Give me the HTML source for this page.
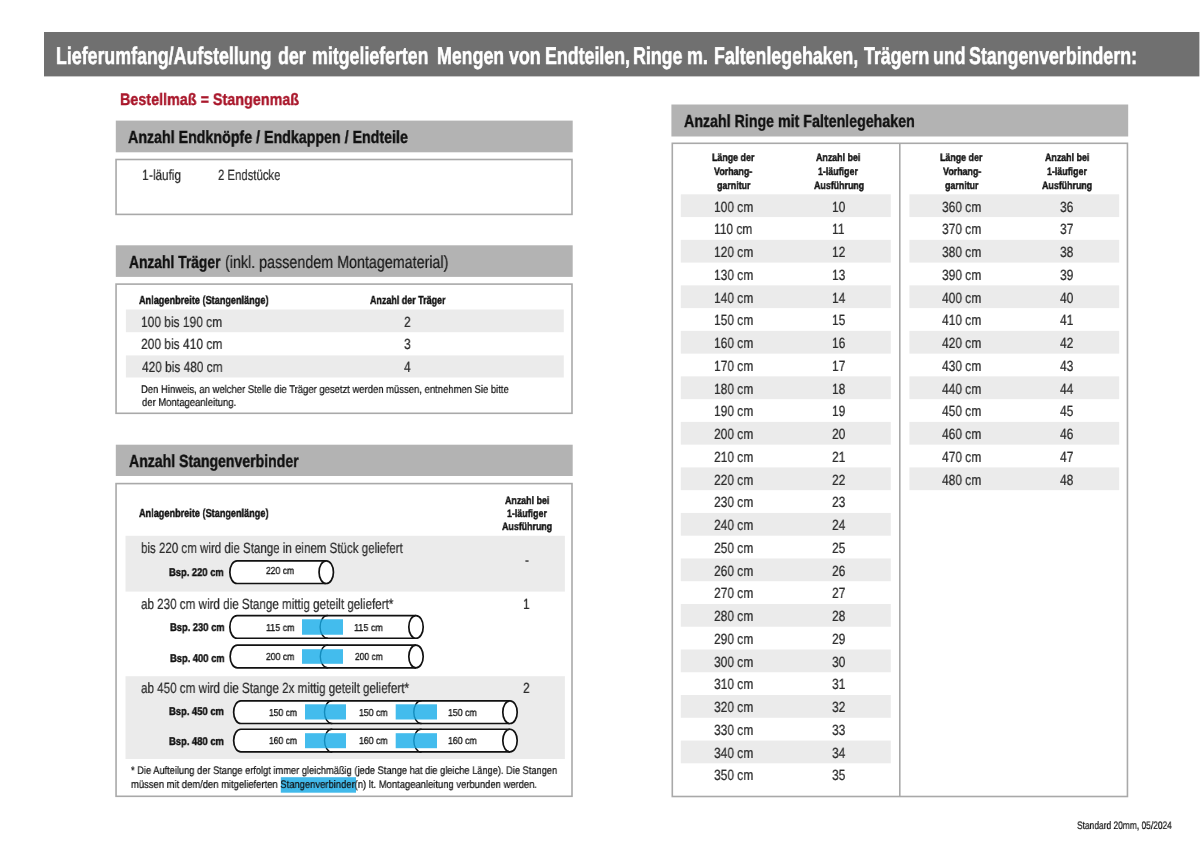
<!DOCTYPE html>
<html><head><meta charset="utf-8"><style>
html,body{margin:0;padding:0;background:#fff}
#pg{position:relative;width:1200px;height:849px;overflow:hidden;background:#fff;font-family:"Liberation Sans",sans-serif}
.t{position:absolute;white-space:pre;transform-origin:0 0;text-rendering:geometricPrecision;will-change:transform}
.b{font-weight:700}.n{font-weight:400}
svg{position:absolute;left:0;top:0}
</style></head><body><div id="pg">
<svg width="1200" height="849" viewBox="0 0 1200 849"><rect x="44" y="32" width="1155.40" height="44.40" fill="#707070"/><rect x="115.8" y="120.6" width="456.90" height="31.70" fill="#b3b3b3"/><rect x="116.05" y="159.5" width="455.95" height="54.90" fill="none" stroke="#a9a9a9" stroke-width="1.6"/><rect x="115.8" y="245.3" width="456.90" height="31.60" fill="#b3b3b3"/><rect x="125.9" y="309.5" width="437.90" height="22.70" fill="#ebebeb"/><rect x="125.9" y="355.4" width="437.90" height="22.10" fill="#ebebeb"/><rect x="116.05" y="284.1" width="455.95" height="129.20" fill="none" stroke="#a9a9a9" stroke-width="1.6"/><rect x="115.8" y="444.7" width="456.90" height="31.30" fill="#b3b3b3"/><rect x="125.5" y="535.8" width="439.40" height="55.80" fill="#ebebeb"/><rect x="125.5" y="676.2" width="439.40" height="82.80" fill="#ebebeb"/><rect x="116.05" y="483.6" width="455.95" height="312.70" fill="none" stroke="#a9a9a9" stroke-width="1.6"/><rect x="280.8" y="777.2" width="75.20" height="15.50" fill="#41b9ea"/><rect x="671.4" y="104.5" width="456.80" height="32.00" fill="#b3b3b3"/><rect x="680.8" y="194.3" width="210.00" height="22.76" fill="#ebebeb"/><rect x="680.8" y="239.82000000000002" width="210.00" height="22.76" fill="#ebebeb"/><rect x="680.8" y="285.34000000000003" width="210.00" height="22.76" fill="#ebebeb"/><rect x="680.8" y="330.86" width="210.00" height="22.76" fill="#ebebeb"/><rect x="680.8" y="376.38" width="210.00" height="22.76" fill="#ebebeb"/><rect x="680.8" y="421.90000000000003" width="210.00" height="22.76" fill="#ebebeb"/><rect x="680.8" y="467.42" width="210.00" height="22.76" fill="#ebebeb"/><rect x="680.8" y="512.94" width="210.00" height="22.76" fill="#ebebeb"/><rect x="680.8" y="558.46" width="210.00" height="22.76" fill="#ebebeb"/><rect x="680.8" y="603.98" width="210.00" height="22.76" fill="#ebebeb"/><rect x="680.8" y="649.5" width="210.00" height="22.76" fill="#ebebeb"/><rect x="680.8" y="695.02" width="210.00" height="22.76" fill="#ebebeb"/><rect x="680.8" y="740.54" width="210.00" height="22.76" fill="#ebebeb"/><rect x="909.4" y="194.3" width="209.80" height="22.76" fill="#ebebeb"/><rect x="909.4" y="239.82000000000002" width="209.80" height="22.76" fill="#ebebeb"/><rect x="909.4" y="285.34000000000003" width="209.80" height="22.76" fill="#ebebeb"/><rect x="909.4" y="330.86" width="209.80" height="22.76" fill="#ebebeb"/><rect x="909.4" y="376.38" width="209.80" height="22.76" fill="#ebebeb"/><rect x="909.4" y="421.90000000000003" width="209.80" height="22.76" fill="#ebebeb"/><rect x="909.4" y="467.42" width="209.80" height="22.76" fill="#ebebeb"/><rect x="672.3" y="143.3" width="455.15" height="653.20" fill="none" stroke="#a9a9a9" stroke-width="1.6"/><line x1="899.8" y1="143.3" x2="899.8" y2="796.5" stroke="#a9a9a9" stroke-width="1.6"/><path d="M326.25,560.80 L237.05,560.80 A7.2,11.35 0 0 0 237.05,583.50 L326.25,583.50 Z" fill="#fff"/><path d="M326.25,560.80 L237.05,560.80 A7.2,11.35 0 0 0 237.05,583.50 L326.25,583.50" fill="none" stroke="#111" stroke-width="1.7"/><ellipse cx="326.25" cy="572.15" rx="7.2" ry="11.35" fill="#fff" stroke="#111" stroke-width="1.7"/><path d="M416.00,615.55 L237.05,615.55 A7.2,11.35 0 0 0 237.05,638.25 L416.00,638.25 Z" fill="#fff"/><path d="M416.00,615.55 L237.05,615.55 A7.2,11.35 0 0 0 237.05,638.25 L416.00,638.25" fill="none" stroke="#111" stroke-width="1.7"/><path d="M327.90,615.55 L327.30,615.55 A7.2,11.35 0 0 0 327.30,638.25 L327.90,638.25" fill="none" stroke="#111" stroke-width="1.4"/><rect x="302" y="619.25" width="41.00" height="15.50" fill="#14abe8" fill-opacity="0.8"/><ellipse cx="416.00" cy="626.90" rx="7.2" ry="11.35" fill="#fff" stroke="#111" stroke-width="1.7"/><path d="M416.00,645.10 L237.35,645.10 A7.2,11.35 0 0 0 237.35,667.80 L416.00,667.80 Z" fill="#fff"/><path d="M416.00,645.10 L237.35,645.10 A7.2,11.35 0 0 0 237.35,667.80 L416.00,667.80" fill="none" stroke="#111" stroke-width="1.7"/><path d="M328.10,645.10 L327.50,645.10 A7.2,11.35 0 0 0 327.50,667.80 L328.10,667.80" fill="none" stroke="#111" stroke-width="1.4"/><rect x="302" y="649.2" width="41.00" height="14.60" fill="#14abe8" fill-opacity="0.8"/><ellipse cx="416.00" cy="656.45" rx="7.2" ry="11.35" fill="#fff" stroke="#111" stroke-width="1.7"/><path d="M510.00,700.80 L240.85,700.80 A7.2,11.35 0 0 0 240.85,723.50 L510.00,723.50 Z" fill="#fff"/><path d="M510.00,700.80 L240.85,700.80 A7.2,11.35 0 0 0 240.85,723.50 L510.00,723.50" fill="none" stroke="#111" stroke-width="1.7"/><path d="M332.30,700.80 L331.70,700.80 A7.2,11.35 0 0 0 331.70,723.50 L332.30,723.50" fill="none" stroke="#111" stroke-width="1.4"/><path d="M421.60,700.80 L421.00,700.80 A7.2,11.35 0 0 0 421.00,723.50 L421.60,723.50" fill="none" stroke="#111" stroke-width="1.4"/><rect x="305" y="704.3" width="41.00" height="15.20" fill="#14abe8" fill-opacity="0.8"/><rect x="395.7" y="704.3" width="41.30" height="15.20" fill="#14abe8" fill-opacity="0.8"/><ellipse cx="510.00" cy="712.15" rx="7.2" ry="11.35" fill="#fff" stroke="#111" stroke-width="1.7"/><path d="M510.00,729.25 L240.85,729.25 A7.2,11.35 0 0 0 240.85,751.95 L510.00,751.95 Z" fill="#fff"/><path d="M510.00,729.25 L240.85,729.25 A7.2,11.35 0 0 0 240.85,751.95 L510.00,751.95" fill="none" stroke="#111" stroke-width="1.7"/><path d="M332.30,729.25 L331.70,729.25 A7.2,11.35 0 0 0 331.70,751.95 L332.30,751.95" fill="none" stroke="#111" stroke-width="1.4"/><path d="M421.60,729.25 L421.00,729.25 A7.2,11.35 0 0 0 421.00,751.95 L421.60,751.95" fill="none" stroke="#111" stroke-width="1.4"/><rect x="305" y="733.2" width="41.00" height="15.00" fill="#14abe8" fill-opacity="0.8"/><rect x="395.7" y="733.2" width="41.30" height="15.00" fill="#14abe8" fill-opacity="0.8"/><ellipse cx="510.00" cy="740.60" rx="7.2" ry="11.35" fill="#fff" stroke="#111" stroke-width="1.7"/></svg>
<div class="t b" style="left:56.27px;top:45px;font-size:24.2px;line-height:24.2px;color:#fff;transform:scaleX(0.7350);-webkit-text-stroke:0.6px #fff">Lieferumfang/Aufstellung</div><div class="t b" style="left:278.27px;top:45px;font-size:24.2px;line-height:24.2px;color:#fff;transform:scaleX(0.7350);-webkit-text-stroke:0.6px #fff">der</div><div class="t b" style="left:311.77px;top:45px;font-size:24.2px;line-height:24.2px;color:#fff;transform:scaleX(0.7350);-webkit-text-stroke:0.6px #fff">mitgelieferten</div><div class="t b" style="left:437.27px;top:45px;font-size:24.2px;line-height:24.2px;color:#fff;transform:scaleX(0.7350);-webkit-text-stroke:0.6px #fff">Mengen</div><div class="t b" style="left:508.70px;top:45px;font-size:24.2px;line-height:24.2px;color:#fff;transform:scaleX(0.7350);-webkit-text-stroke:0.6px #fff">von</div><div class="t b" style="left:545.27px;top:45px;font-size:24.2px;line-height:24.2px;color:#fff;transform:scaleX(0.7350);-webkit-text-stroke:0.6px #fff">Endteilen,</div><div class="t b" style="left:633.47px;top:45px;font-size:24.2px;line-height:24.2px;color:#fff;transform:scaleX(0.7350);-webkit-text-stroke:0.6px #fff">Ringe</div><div class="t b" style="left:686.77px;top:45px;font-size:24.2px;line-height:24.2px;color:#fff;transform:scaleX(0.7350);-webkit-text-stroke:0.6px #fff">m.</div><div class="t b" style="left:714.27px;top:45px;font-size:24.2px;line-height:24.2px;color:#fff;transform:scaleX(0.7350);-webkit-text-stroke:0.6px #fff">Faltenlegehaken,</div><div class="t b" style="left:864.00px;top:45px;font-size:24.2px;line-height:24.2px;color:#fff;transform:scaleX(0.7350);-webkit-text-stroke:0.6px #fff">Trägern</div><div class="t b" style="left:932.57px;top:45px;font-size:24.2px;line-height:24.2px;color:#fff;transform:scaleX(0.7350);-webkit-text-stroke:0.6px #fff">und</div><div class="t b" style="left:969.27px;top:45px;font-size:24.2px;line-height:24.2px;color:#fff;transform:scaleX(0.7350);-webkit-text-stroke:0.6px #fff">Stangenverbindern:</div><div class="t b" style="left:119.94px;top:92px;font-size:16.7px;line-height:16.7px;color:#a9162a;transform:scaleX(0.8599);-webkit-text-stroke:0.4px #a9162a">Bestellmaß = Stangenmaß</div><div class="t b" style="left:128.30px;top:129px;font-size:17.5px;line-height:17.5px;color:#111;transform:scaleX(0.8131);-webkit-text-stroke:0.4px #111">Anzahl Endknöpfe / Endkappen / Endteile</div><div class="t n" style="left:141.79px;top:169px;font-size:14.8px;line-height:14.8px;color:#2b2b2b;transform:scaleX(0.8085);-webkit-text-stroke:0.22px #2b2b2b">1</div><div class="t n" style="left:148.68px;top:169px;font-size:14.8px;line-height:14.8px;color:#2b2b2b;transform:scaleX(0.8085);-webkit-text-stroke:0.22px #2b2b2b">-</div><div class="t n" style="left:152.81px;top:169px;font-size:14.8px;line-height:14.8px;color:#2b2b2b;transform:scaleX(0.7882);-webkit-text-stroke:0.22px #2b2b2b">läufig</div><div class="t n" style="left:217.93px;top:169px;font-size:14.8px;line-height:14.8px;color:#2b2b2b;transform:scaleX(0.7663);-webkit-text-stroke:0.22px #2b2b2b">2 Endstücke</div><div class="t b" style="left:128.60px;top:254px;font-size:17.5px;line-height:17.5px;color:#111;transform:scaleX(0.7897);-webkit-text-stroke:0.4px #111">Anzahl Träger</div><div class="t n" style="left:224.68px;top:254px;font-size:17.5px;line-height:17.5px;color:#1a1a1a;transform:scaleX(0.8173);-webkit-text-stroke:0.22px #1a1a1a">(inkl. passendem Montagematerial)</div><div class="t b" style="left:139.20px;top:295px;font-size:11.6px;line-height:11.6px;color:#111;transform:scaleX(0.7884);-webkit-text-stroke:0.4px #111">Anlagenbreite (Stangenlänge)</div><div class="t b" style="left:370.10px;top:295px;font-size:11.6px;line-height:11.6px;color:#111;transform:scaleX(0.7704);-webkit-text-stroke:0.4px #111">Anzahl der Träger</div><div class="t n" style="left:141.39px;top:316px;font-size:14.8px;line-height:14.8px;color:#2b2b2b;transform:scaleX(0.8091);-webkit-text-stroke:0.22px #2b2b2b">100 bis 190 cm</div><div class="t n" style="left:141.19px;top:338px;font-size:14.8px;line-height:14.8px;color:#2b2b2b;transform:scaleX(0.8111);-webkit-text-stroke:0.22px #2b2b2b">200 bis 410 cm</div><div class="t n" style="left:142.00px;top:361px;font-size:14.8px;line-height:14.8px;color:#2b2b2b;transform:scaleX(0.8030);-webkit-text-stroke:0.22px #2b2b2b">420 bis 480 cm</div><div class="t n" style="left:404.16px;top:316px;font-size:14.8px;line-height:14.8px;color:#2b2b2b;transform:scaleX(0.8085);-webkit-text-stroke:0.22px #2b2b2b">2</div><div class="t n" style="left:404.16px;top:338px;font-size:14.8px;line-height:14.8px;color:#2b2b2b;transform:scaleX(0.8085);-webkit-text-stroke:0.22px #2b2b2b">3</div><div class="t n" style="left:404.16px;top:361px;font-size:14.8px;line-height:14.8px;color:#2b2b2b;transform:scaleX(0.8085);-webkit-text-stroke:0.22px #2b2b2b">4</div><div class="t n" style="left:141.35px;top:385px;font-size:11.2px;line-height:11.2px;color:#111;transform:scaleX(0.8460);-webkit-text-stroke:0.22px #111">Den Hinweis, an welcher Stelle die Träger gesetzt werden müssen, entnehmen Sie bitte</div><div class="t n" style="left:142.20px;top:398px;font-size:11.2px;line-height:11.2px;color:#111;transform:scaleX(0.8460);-webkit-text-stroke:0.22px #111">der Montageanleitung.</div><div class="t b" style="left:128.50px;top:453px;font-size:17.5px;line-height:17.5px;color:#111;transform:scaleX(0.8038);-webkit-text-stroke:0.4px #111">Anzahl Stangenverbinder</div><div class="t b" style="left:139.20px;top:508px;font-size:11.6px;line-height:11.6px;color:#111;transform:scaleX(0.7884);-webkit-text-stroke:0.4px #111">Anlagenbreite (Stangenlänge)</div><div class="t b" style="left:504.97px;top:496px;font-size:10.8px;line-height:10.8px;color:#111;transform:scaleX(0.8197);-webkit-text-stroke:0.4px #111">Anzahl bei</div><div class="t b" style="left:507.02px;top:509px;font-size:10.8px;line-height:10.8px;color:#111;transform:scaleX(0.8197);-webkit-text-stroke:0.4px #111">1-läufiger</div><div class="t b" style="left:502.10px;top:522px;font-size:10.8px;line-height:10.8px;color:#111;transform:scaleX(0.8197);-webkit-text-stroke:0.4px #111">Ausführung</div><div class="t n" style="left:140.92px;top:542px;font-size:14.8px;line-height:14.8px;color:#2b2b2b;transform:scaleX(0.7800);-webkit-text-stroke:0.22px #2b2b2b">bis 220 cm wird die Stange in einem Stück geliefert</div><div class="t n" style="left:525.08px;top:554px;font-size:14.8px;line-height:14.8px;color:#2b2b2b;transform:scaleX(0.8085);-webkit-text-stroke:0.22px #2b2b2b">-</div><div class="t b" style="left:169.46px;top:568px;font-size:11.2px;line-height:11.2px;color:#111;transform:scaleX(0.8375);-webkit-text-stroke:0.4px #111">Bsp. 220 cm</div><div class="t n" style="left:140.91px;top:598px;font-size:14.8px;line-height:14.8px;color:#2b2b2b;transform:scaleX(0.7865);-webkit-text-stroke:0.22px #2b2b2b">ab 230 cm wird die Stange mittig geteilt geliefert*</div><div class="t n" style="left:523.46px;top:598px;font-size:14.8px;line-height:14.8px;color:#2b2b2b;transform:scaleX(0.8085);-webkit-text-stroke:0.22px #2b2b2b">1</div><div class="t b" style="left:169.56px;top:623px;font-size:11.2px;line-height:11.2px;color:#111;transform:scaleX(0.8359);-webkit-text-stroke:0.4px #111">Bsp. 230 cm</div><div class="t b" style="left:169.56px;top:654px;font-size:11.2px;line-height:11.2px;color:#111;transform:scaleX(0.8359);-webkit-text-stroke:0.4px #111">Bsp. 400 cm</div><div class="t n" style="left:140.71px;top:682px;font-size:14.8px;line-height:14.8px;color:#2b2b2b;transform:scaleX(0.7870);-webkit-text-stroke:0.22px #2b2b2b">ab 450 cm wird die Stange 2x mittig geteilt geliefert*</div><div class="t n" style="left:523.46px;top:682px;font-size:14.8px;line-height:14.8px;color:#2b2b2b;transform:scaleX(0.8085);-webkit-text-stroke:0.22px #2b2b2b">2</div><div class="t b" style="left:169.36px;top:707px;font-size:11.2px;line-height:11.2px;color:#111;transform:scaleX(0.8406);-webkit-text-stroke:0.4px #111">Bsp. 450 cm</div><div class="t b" style="left:169.36px;top:737px;font-size:11.2px;line-height:11.2px;color:#111;transform:scaleX(0.8406);-webkit-text-stroke:0.4px #111">Bsp. 480 cm</div><div class="t n" style="left:130.56px;top:766px;font-size:11.0px;line-height:11.0px;color:#111;transform:scaleX(0.8438);-webkit-text-stroke:0.22px #111">* Die Aufteilung der Stange erfolgt immer gleichmäßig (jede Stange hat die gleiche Länge). Die Stangen</div><div class="t n" style="left:130.74px;top:780px;font-size:11.0px;line-height:11.0px;color:#111;transform:scaleX(0.8568);-webkit-text-stroke:0.22px #111">müssen mit dem/den mitgelieferten Stangenverbinder(n) lt. Montageanleitung verbunden werden.</div><div class="t n" style="left:266.00px;top:567px;font-size:10.1px;line-height:10.1px;color:#111;transform:scaleX(0.8485);-webkit-text-stroke:0.3px #111">220 cm</div><div class="t n" style="left:265.82px;top:624px;font-size:10.1px;line-height:10.1px;color:#111;transform:scaleX(0.8806);-webkit-text-stroke:0.3px #111">115 cm</div><div class="t n" style="left:353.91px;top:624px;font-size:10.1px;line-height:10.1px;color:#111;transform:scaleX(0.8903);-webkit-text-stroke:0.3px #111">115 cm</div><div class="t n" style="left:266.00px;top:653px;font-size:10.1px;line-height:10.1px;color:#111;transform:scaleX(0.8545);-webkit-text-stroke:0.3px #111">200 cm</div><div class="t n" style="left:354.80px;top:653px;font-size:10.1px;line-height:10.1px;color:#111;transform:scaleX(0.8364);-webkit-text-stroke:0.3px #111">200 cm</div><div class="t n" style="left:269.16px;top:709px;font-size:10.1px;line-height:10.1px;color:#111;transform:scaleX(0.8438);-webkit-text-stroke:0.3px #111">150 cm</div><div class="t n" style="left:359.44px;top:709px;font-size:10.1px;line-height:10.1px;color:#111;transform:scaleX(0.8625);-webkit-text-stroke:0.3px #111">150 cm</div><div class="t n" style="left:447.73px;top:709px;font-size:10.1px;line-height:10.1px;color:#111;transform:scaleX(0.8656);-webkit-text-stroke:0.3px #111">150 cm</div><div class="t n" style="left:269.16px;top:737px;font-size:10.1px;line-height:10.1px;color:#111;transform:scaleX(0.8438);-webkit-text-stroke:0.3px #111">160 cm</div><div class="t n" style="left:359.44px;top:737px;font-size:10.1px;line-height:10.1px;color:#111;transform:scaleX(0.8625);-webkit-text-stroke:0.3px #111">160 cm</div><div class="t n" style="left:447.73px;top:737px;font-size:10.1px;line-height:10.1px;color:#111;transform:scaleX(0.8656);-webkit-text-stroke:0.3px #111">160 cm</div><div class="t b" style="left:684.00px;top:113px;font-size:17.5px;line-height:17.5px;color:#111;transform:scaleX(0.8127);-webkit-text-stroke:0.4px #111">Anzahl Ringe mit Faltenlegehaken</div><div class="t b" style="left:711.58px;top:153px;font-size:10.8px;line-height:10.8px;color:#111;transform:scaleX(0.8197);-webkit-text-stroke:0.4px #111">Länge der</div><div class="t b" style="left:816.37px;top:153px;font-size:10.8px;line-height:10.8px;color:#111;transform:scaleX(0.8197);-webkit-text-stroke:0.4px #111">Anzahl bei</div><div class="t b" style="left:714.45px;top:167px;font-size:10.8px;line-height:10.8px;color:#111;transform:scaleX(0.8197);-webkit-text-stroke:0.4px #111">Vorhang-</div><div class="t b" style="left:818.42px;top:167px;font-size:10.8px;line-height:10.8px;color:#111;transform:scaleX(0.8197);-webkit-text-stroke:0.4px #111">1-läufiger</div><div class="t b" style="left:716.50px;top:181px;font-size:10.8px;line-height:10.8px;color:#111;transform:scaleX(0.8197);-webkit-text-stroke:0.4px #111">garnitur</div><div class="t b" style="left:813.50px;top:181px;font-size:10.8px;line-height:10.8px;color:#111;transform:scaleX(0.8197);-webkit-text-stroke:0.4px #111">Ausführung</div><div class="t b" style="left:939.78px;top:153px;font-size:10.8px;line-height:10.8px;color:#111;transform:scaleX(0.8197);-webkit-text-stroke:0.4px #111">Länge der</div><div class="t b" style="left:1044.57px;top:153px;font-size:10.8px;line-height:10.8px;color:#111;transform:scaleX(0.8197);-webkit-text-stroke:0.4px #111">Anzahl bei</div><div class="t b" style="left:942.65px;top:167px;font-size:10.8px;line-height:10.8px;color:#111;transform:scaleX(0.8197);-webkit-text-stroke:0.4px #111">Vorhang-</div><div class="t b" style="left:1046.62px;top:167px;font-size:10.8px;line-height:10.8px;color:#111;transform:scaleX(0.8197);-webkit-text-stroke:0.4px #111">1-läufiger</div><div class="t b" style="left:944.70px;top:181px;font-size:10.8px;line-height:10.8px;color:#111;transform:scaleX(0.8197);-webkit-text-stroke:0.4px #111">garnitur</div><div class="t b" style="left:1041.70px;top:181px;font-size:10.8px;line-height:10.8px;color:#111;transform:scaleX(0.8197);-webkit-text-stroke:0.4px #111">Ausführung</div><div class="t n" style="left:713.99px;top:201px;font-size:14.8px;line-height:14.8px;color:#2b2b2b;transform:scaleX(0.8085);-webkit-text-stroke:0.22px #2b2b2b">100 cm</div><div class="t n" style="left:832.13px;top:201px;font-size:14.8px;line-height:14.8px;color:#2b2b2b;transform:scaleX(0.8085);-webkit-text-stroke:0.22px #2b2b2b">10</div><div class="t n" style="left:713.99px;top:223px;font-size:14.8px;line-height:14.8px;color:#2b2b2b;transform:scaleX(0.8085);-webkit-text-stroke:0.22px #2b2b2b">110 cm</div><div class="t n" style="left:832.13px;top:223px;font-size:14.8px;line-height:14.8px;color:#2b2b2b;transform:scaleX(0.8085);-webkit-text-stroke:0.22px #2b2b2b">11</div><div class="t n" style="left:713.99px;top:246px;font-size:14.8px;line-height:14.8px;color:#2b2b2b;transform:scaleX(0.8085);-webkit-text-stroke:0.22px #2b2b2b">120 cm</div><div class="t n" style="left:832.13px;top:246px;font-size:14.8px;line-height:14.8px;color:#2b2b2b;transform:scaleX(0.8085);-webkit-text-stroke:0.22px #2b2b2b">12</div><div class="t n" style="left:713.99px;top:269px;font-size:14.8px;line-height:14.8px;color:#2b2b2b;transform:scaleX(0.8085);-webkit-text-stroke:0.22px #2b2b2b">130 cm</div><div class="t n" style="left:832.13px;top:269px;font-size:14.8px;line-height:14.8px;color:#2b2b2b;transform:scaleX(0.8085);-webkit-text-stroke:0.22px #2b2b2b">13</div><div class="t n" style="left:713.99px;top:292px;font-size:14.8px;line-height:14.8px;color:#2b2b2b;transform:scaleX(0.8085);-webkit-text-stroke:0.22px #2b2b2b">140 cm</div><div class="t n" style="left:832.13px;top:292px;font-size:14.8px;line-height:14.8px;color:#2b2b2b;transform:scaleX(0.8085);-webkit-text-stroke:0.22px #2b2b2b">14</div><div class="t n" style="left:713.99px;top:314px;font-size:14.8px;line-height:14.8px;color:#2b2b2b;transform:scaleX(0.8085);-webkit-text-stroke:0.22px #2b2b2b">150 cm</div><div class="t n" style="left:832.13px;top:314px;font-size:14.8px;line-height:14.8px;color:#2b2b2b;transform:scaleX(0.8085);-webkit-text-stroke:0.22px #2b2b2b">15</div><div class="t n" style="left:713.99px;top:337px;font-size:14.8px;line-height:14.8px;color:#2b2b2b;transform:scaleX(0.8085);-webkit-text-stroke:0.22px #2b2b2b">160 cm</div><div class="t n" style="left:832.13px;top:337px;font-size:14.8px;line-height:14.8px;color:#2b2b2b;transform:scaleX(0.8085);-webkit-text-stroke:0.22px #2b2b2b">16</div><div class="t n" style="left:713.99px;top:360px;font-size:14.8px;line-height:14.8px;color:#2b2b2b;transform:scaleX(0.8085);-webkit-text-stroke:0.22px #2b2b2b">170 cm</div><div class="t n" style="left:832.13px;top:360px;font-size:14.8px;line-height:14.8px;color:#2b2b2b;transform:scaleX(0.8085);-webkit-text-stroke:0.22px #2b2b2b">17</div><div class="t n" style="left:713.99px;top:383px;font-size:14.8px;line-height:14.8px;color:#2b2b2b;transform:scaleX(0.8085);-webkit-text-stroke:0.22px #2b2b2b">180 cm</div><div class="t n" style="left:832.13px;top:383px;font-size:14.8px;line-height:14.8px;color:#2b2b2b;transform:scaleX(0.8085);-webkit-text-stroke:0.22px #2b2b2b">18</div><div class="t n" style="left:713.99px;top:405px;font-size:14.8px;line-height:14.8px;color:#2b2b2b;transform:scaleX(0.8085);-webkit-text-stroke:0.22px #2b2b2b">190 cm</div><div class="t n" style="left:832.13px;top:405px;font-size:14.8px;line-height:14.8px;color:#2b2b2b;transform:scaleX(0.8085);-webkit-text-stroke:0.22px #2b2b2b">19</div><div class="t n" style="left:713.99px;top:428px;font-size:14.8px;line-height:14.8px;color:#2b2b2b;transform:scaleX(0.8085);-webkit-text-stroke:0.22px #2b2b2b">200 cm</div><div class="t n" style="left:832.13px;top:428px;font-size:14.8px;line-height:14.8px;color:#2b2b2b;transform:scaleX(0.8085);-webkit-text-stroke:0.22px #2b2b2b">20</div><div class="t n" style="left:713.99px;top:451px;font-size:14.8px;line-height:14.8px;color:#2b2b2b;transform:scaleX(0.8085);-webkit-text-stroke:0.22px #2b2b2b">210 cm</div><div class="t n" style="left:832.13px;top:451px;font-size:14.8px;line-height:14.8px;color:#2b2b2b;transform:scaleX(0.8085);-webkit-text-stroke:0.22px #2b2b2b">21</div><div class="t n" style="left:713.99px;top:474px;font-size:14.8px;line-height:14.8px;color:#2b2b2b;transform:scaleX(0.8085);-webkit-text-stroke:0.22px #2b2b2b">220 cm</div><div class="t n" style="left:832.13px;top:474px;font-size:14.8px;line-height:14.8px;color:#2b2b2b;transform:scaleX(0.8085);-webkit-text-stroke:0.22px #2b2b2b">22</div><div class="t n" style="left:713.99px;top:496px;font-size:14.8px;line-height:14.8px;color:#2b2b2b;transform:scaleX(0.8085);-webkit-text-stroke:0.22px #2b2b2b">230 cm</div><div class="t n" style="left:832.13px;top:496px;font-size:14.8px;line-height:14.8px;color:#2b2b2b;transform:scaleX(0.8085);-webkit-text-stroke:0.22px #2b2b2b">23</div><div class="t n" style="left:713.99px;top:519px;font-size:14.8px;line-height:14.8px;color:#2b2b2b;transform:scaleX(0.8085);-webkit-text-stroke:0.22px #2b2b2b">240 cm</div><div class="t n" style="left:832.13px;top:519px;font-size:14.8px;line-height:14.8px;color:#2b2b2b;transform:scaleX(0.8085);-webkit-text-stroke:0.22px #2b2b2b">24</div><div class="t n" style="left:713.99px;top:542px;font-size:14.8px;line-height:14.8px;color:#2b2b2b;transform:scaleX(0.8085);-webkit-text-stroke:0.22px #2b2b2b">250 cm</div><div class="t n" style="left:832.13px;top:542px;font-size:14.8px;line-height:14.8px;color:#2b2b2b;transform:scaleX(0.8085);-webkit-text-stroke:0.22px #2b2b2b">25</div><div class="t n" style="left:713.99px;top:565px;font-size:14.8px;line-height:14.8px;color:#2b2b2b;transform:scaleX(0.8085);-webkit-text-stroke:0.22px #2b2b2b">260 cm</div><div class="t n" style="left:832.13px;top:565px;font-size:14.8px;line-height:14.8px;color:#2b2b2b;transform:scaleX(0.8085);-webkit-text-stroke:0.22px #2b2b2b">26</div><div class="t n" style="left:713.99px;top:587px;font-size:14.8px;line-height:14.8px;color:#2b2b2b;transform:scaleX(0.8085);-webkit-text-stroke:0.22px #2b2b2b">270 cm</div><div class="t n" style="left:832.13px;top:587px;font-size:14.8px;line-height:14.8px;color:#2b2b2b;transform:scaleX(0.8085);-webkit-text-stroke:0.22px #2b2b2b">27</div><div class="t n" style="left:713.99px;top:610px;font-size:14.8px;line-height:14.8px;color:#2b2b2b;transform:scaleX(0.8085);-webkit-text-stroke:0.22px #2b2b2b">280 cm</div><div class="t n" style="left:832.13px;top:610px;font-size:14.8px;line-height:14.8px;color:#2b2b2b;transform:scaleX(0.8085);-webkit-text-stroke:0.22px #2b2b2b">28</div><div class="t n" style="left:713.99px;top:633px;font-size:14.8px;line-height:14.8px;color:#2b2b2b;transform:scaleX(0.8085);-webkit-text-stroke:0.22px #2b2b2b">290 cm</div><div class="t n" style="left:832.13px;top:633px;font-size:14.8px;line-height:14.8px;color:#2b2b2b;transform:scaleX(0.8085);-webkit-text-stroke:0.22px #2b2b2b">29</div><div class="t n" style="left:713.99px;top:656px;font-size:14.8px;line-height:14.8px;color:#2b2b2b;transform:scaleX(0.8085);-webkit-text-stroke:0.22px #2b2b2b">300 cm</div><div class="t n" style="left:832.13px;top:656px;font-size:14.8px;line-height:14.8px;color:#2b2b2b;transform:scaleX(0.8085);-webkit-text-stroke:0.22px #2b2b2b">30</div><div class="t n" style="left:713.99px;top:678px;font-size:14.8px;line-height:14.8px;color:#2b2b2b;transform:scaleX(0.8085);-webkit-text-stroke:0.22px #2b2b2b">310 cm</div><div class="t n" style="left:832.13px;top:678px;font-size:14.8px;line-height:14.8px;color:#2b2b2b;transform:scaleX(0.8085);-webkit-text-stroke:0.22px #2b2b2b">31</div><div class="t n" style="left:713.99px;top:701px;font-size:14.8px;line-height:14.8px;color:#2b2b2b;transform:scaleX(0.8085);-webkit-text-stroke:0.22px #2b2b2b">320 cm</div><div class="t n" style="left:832.13px;top:701px;font-size:14.8px;line-height:14.8px;color:#2b2b2b;transform:scaleX(0.8085);-webkit-text-stroke:0.22px #2b2b2b">32</div><div class="t n" style="left:713.99px;top:724px;font-size:14.8px;line-height:14.8px;color:#2b2b2b;transform:scaleX(0.8085);-webkit-text-stroke:0.22px #2b2b2b">330 cm</div><div class="t n" style="left:832.13px;top:724px;font-size:14.8px;line-height:14.8px;color:#2b2b2b;transform:scaleX(0.8085);-webkit-text-stroke:0.22px #2b2b2b">33</div><div class="t n" style="left:713.99px;top:747px;font-size:14.8px;line-height:14.8px;color:#2b2b2b;transform:scaleX(0.8085);-webkit-text-stroke:0.22px #2b2b2b">340 cm</div><div class="t n" style="left:832.13px;top:747px;font-size:14.8px;line-height:14.8px;color:#2b2b2b;transform:scaleX(0.8085);-webkit-text-stroke:0.22px #2b2b2b">34</div><div class="t n" style="left:713.99px;top:769px;font-size:14.8px;line-height:14.8px;color:#2b2b2b;transform:scaleX(0.8085);-webkit-text-stroke:0.22px #2b2b2b">350 cm</div><div class="t n" style="left:832.13px;top:769px;font-size:14.8px;line-height:14.8px;color:#2b2b2b;transform:scaleX(0.8085);-webkit-text-stroke:0.22px #2b2b2b">35</div><div class="t n" style="left:941.69px;top:201px;font-size:14.8px;line-height:14.8px;color:#2b2b2b;transform:scaleX(0.8085);-webkit-text-stroke:0.22px #2b2b2b">360 cm</div><div class="t n" style="left:1059.83px;top:201px;font-size:14.8px;line-height:14.8px;color:#2b2b2b;transform:scaleX(0.8085);-webkit-text-stroke:0.22px #2b2b2b">36</div><div class="t n" style="left:941.69px;top:223px;font-size:14.8px;line-height:14.8px;color:#2b2b2b;transform:scaleX(0.8085);-webkit-text-stroke:0.22px #2b2b2b">370 cm</div><div class="t n" style="left:1059.83px;top:223px;font-size:14.8px;line-height:14.8px;color:#2b2b2b;transform:scaleX(0.8085);-webkit-text-stroke:0.22px #2b2b2b">37</div><div class="t n" style="left:941.69px;top:246px;font-size:14.8px;line-height:14.8px;color:#2b2b2b;transform:scaleX(0.8085);-webkit-text-stroke:0.22px #2b2b2b">380 cm</div><div class="t n" style="left:1059.83px;top:246px;font-size:14.8px;line-height:14.8px;color:#2b2b2b;transform:scaleX(0.8085);-webkit-text-stroke:0.22px #2b2b2b">38</div><div class="t n" style="left:941.69px;top:269px;font-size:14.8px;line-height:14.8px;color:#2b2b2b;transform:scaleX(0.8085);-webkit-text-stroke:0.22px #2b2b2b">390 cm</div><div class="t n" style="left:1059.83px;top:269px;font-size:14.8px;line-height:14.8px;color:#2b2b2b;transform:scaleX(0.8085);-webkit-text-stroke:0.22px #2b2b2b">39</div><div class="t n" style="left:941.69px;top:292px;font-size:14.8px;line-height:14.8px;color:#2b2b2b;transform:scaleX(0.8085);-webkit-text-stroke:0.22px #2b2b2b">400 cm</div><div class="t n" style="left:1059.83px;top:292px;font-size:14.8px;line-height:14.8px;color:#2b2b2b;transform:scaleX(0.8085);-webkit-text-stroke:0.22px #2b2b2b">40</div><div class="t n" style="left:941.69px;top:314px;font-size:14.8px;line-height:14.8px;color:#2b2b2b;transform:scaleX(0.8085);-webkit-text-stroke:0.22px #2b2b2b">410 cm</div><div class="t n" style="left:1059.83px;top:314px;font-size:14.8px;line-height:14.8px;color:#2b2b2b;transform:scaleX(0.8085);-webkit-text-stroke:0.22px #2b2b2b">41</div><div class="t n" style="left:941.69px;top:337px;font-size:14.8px;line-height:14.8px;color:#2b2b2b;transform:scaleX(0.8085);-webkit-text-stroke:0.22px #2b2b2b">420 cm</div><div class="t n" style="left:1059.83px;top:337px;font-size:14.8px;line-height:14.8px;color:#2b2b2b;transform:scaleX(0.8085);-webkit-text-stroke:0.22px #2b2b2b">42</div><div class="t n" style="left:941.69px;top:360px;font-size:14.8px;line-height:14.8px;color:#2b2b2b;transform:scaleX(0.8085);-webkit-text-stroke:0.22px #2b2b2b">430 cm</div><div class="t n" style="left:1059.83px;top:360px;font-size:14.8px;line-height:14.8px;color:#2b2b2b;transform:scaleX(0.8085);-webkit-text-stroke:0.22px #2b2b2b">43</div><div class="t n" style="left:941.69px;top:383px;font-size:14.8px;line-height:14.8px;color:#2b2b2b;transform:scaleX(0.8085);-webkit-text-stroke:0.22px #2b2b2b">440 cm</div><div class="t n" style="left:1059.83px;top:383px;font-size:14.8px;line-height:14.8px;color:#2b2b2b;transform:scaleX(0.8085);-webkit-text-stroke:0.22px #2b2b2b">44</div><div class="t n" style="left:941.69px;top:405px;font-size:14.8px;line-height:14.8px;color:#2b2b2b;transform:scaleX(0.8085);-webkit-text-stroke:0.22px #2b2b2b">450 cm</div><div class="t n" style="left:1059.83px;top:405px;font-size:14.8px;line-height:14.8px;color:#2b2b2b;transform:scaleX(0.8085);-webkit-text-stroke:0.22px #2b2b2b">45</div><div class="t n" style="left:941.69px;top:428px;font-size:14.8px;line-height:14.8px;color:#2b2b2b;transform:scaleX(0.8085);-webkit-text-stroke:0.22px #2b2b2b">460 cm</div><div class="t n" style="left:1059.83px;top:428px;font-size:14.8px;line-height:14.8px;color:#2b2b2b;transform:scaleX(0.8085);-webkit-text-stroke:0.22px #2b2b2b">46</div><div class="t n" style="left:941.69px;top:451px;font-size:14.8px;line-height:14.8px;color:#2b2b2b;transform:scaleX(0.8085);-webkit-text-stroke:0.22px #2b2b2b">470 cm</div><div class="t n" style="left:1059.83px;top:451px;font-size:14.8px;line-height:14.8px;color:#2b2b2b;transform:scaleX(0.8085);-webkit-text-stroke:0.22px #2b2b2b">47</div><div class="t n" style="left:941.69px;top:474px;font-size:14.8px;line-height:14.8px;color:#2b2b2b;transform:scaleX(0.8085);-webkit-text-stroke:0.22px #2b2b2b">480 cm</div><div class="t n" style="left:1059.83px;top:474px;font-size:14.8px;line-height:14.8px;color:#2b2b2b;transform:scaleX(0.8085);-webkit-text-stroke:0.22px #2b2b2b">48</div><div class="t n" style="left:1077.03px;top:821px;font-size:10.9px;line-height:10.9px;color:#111;transform:scaleX(0.7719);-webkit-text-stroke:0.22px #111">Standard 20mm, 05/2024</div>
</div></body></html>
